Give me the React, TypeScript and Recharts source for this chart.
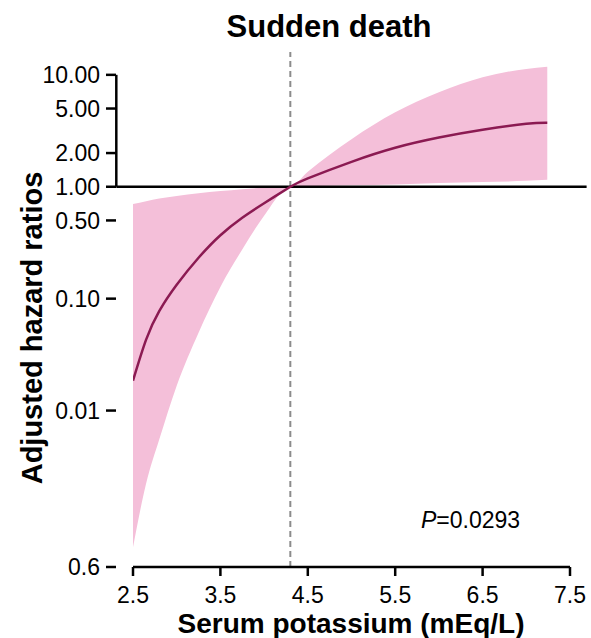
import React from 'react'
import { ComposedChart, Area, Line, XAxis, YAxis, ReferenceLine } from 'recharts'

// spline estimate
const potassium = [2.5, 2.65, 2.8, 3.0, 3.25, 3.5, 3.75, 4.0, 4.3, 4.5, 5.0, 5.5, 6.0, 6.5, 7.0, 7.24]
const hazardRatio = [0.0185, 0.043, 0.0773, 0.133, 0.232, 0.369, 0.529, 0.713, 1.0, 1.19, 1.67, 2.23, 2.75, 3.23, 3.65, 3.73]
const ciLower = [0.0006, 0.00223, 0.0055, 0.0167, 0.0497, 0.1274, 0.275, 0.551, 1.0, 1.008, 1.03, 1.05, 1.08, 1.1, 1.13, 1.155]
const ciUpper = [0.7, 0.741, 0.785, 0.828, 0.875, 0.914, 0.952, 0.98, 1.0, 1.36, 2.66, 4.62, 6.98, 9.5, 11.3, 11.8]

const xTicks = [2.5, 3.5, 4.5, 5.5, 6.5, 7.5]
const yTicks = [0.0004, 0.01, 0.1, 0.5, 1, 2, 5, 10]
const refPotassium = 4.3
const pValue = '0.0293'

const FONT = '"Liberation Sans", Arial, sans-serif'
const BAND = '#f4bfd9'
const CURVE = '#8b1a52'

const data = potassium.map((k, i) => ({
  k,
  hr: hazardRatio[i],
  ci: [ciLower[i], ciUpper[i]],
}))

const fmtY = (v: number) => (v < 0.001 ? '0.6' : v.toFixed(2))

function YTick({ x, y, payload }: any) {
  return (
    <g>
      <line x1={x - 27} x2={x - 17} y1={y} y2={y} stroke="#000" strokeWidth={2.5} />
      <text x={x - 33} y={y} dy="0.36em" textAnchor="end" fontSize={23} fontFamily={FONT} fill="#000">
        {fmtY(payload.value)}
      </text>
    </g>
  )
}

export default function App() {
  return (
    <div style={{ position: 'absolute', left: 0, top: 0, width: 591, height: 638, background: '#fff' }}>
      <ComposedChart width={591} height={638} data={data} margin={{ top: 52, right: 21, left: 0, bottom: 31 }}>
        <XAxis
          dataKey="k"
          type="number"
          domain={[2.5, 7.5]}
          allowDataOverflow
          ticks={xTicks}
          height={40}
          tickSize={9}
          tickMargin={11}
          axisLine={{ stroke: '#000', strokeWidth: 2.5 }}
          tickLine={{ stroke: '#000', strokeWidth: 2.5 }}
          tick={{ fontSize: 23, fontFamily: FONT, fill: '#000' }}
          tickFormatter={(v: number) => v.toFixed(1)}
        />
        <YAxis
          type="number"
          scale="log"
          domain={[0.0004, 16]}
          allowDataOverflow
          ticks={yTicks}
          width={133}
          axisLine={false}
          tickLine={false}
          tickSize={0}
          tickMargin={0}
          tick={<YTick />}
        />
        <Area
          type="monotone"
          dataKey="ci"
          stroke="none"
          fill={BAND}
          fillOpacity={1}
          isAnimationActive={false}
        />
        <ReferenceLine x={refPotassium} stroke="#8c8c8c" strokeWidth={2} strokeDasharray="6 4" />
        <ReferenceLine
          segment={[{ x: 2.309, y: 1 }, { x: 7.69, y: 1 }]}
          ifOverflow="visible"
          stroke="#000"
          strokeWidth={2.5}
        />
        <ReferenceLine
          segment={[{ x: 2.309, y: 1 }, { x: 2.309, y: 10 }]}
          ifOverflow="visible"
          stroke="#000"
          strokeWidth={2.5}
        />
        <Line
          type="natural"
          dataKey="hr"
          stroke={CURVE}
          strokeWidth={2.5}
          dot={false}
          activeDot={false}
          isAnimationActive={false}
        />
      </ComposedChart>
      <svg
        width={591}
        height={638}
        style={{ position: 'absolute', left: 0, top: 0, pointerEvents: 'none' }}
        fontFamily={FONT}
      >
        <text x={329} y={37} textAnchor="middle" fontSize={31} fontWeight="bold" fill="#000">
          Sudden death
        </text>
        <text x={351} y={633} textAnchor="middle" fontSize={28} fontWeight="bold" fill="#000">
          Serum potassium (mEq/L)
        </text>
        <text
          x={0}
          y={0}
          transform="translate(42,328) rotate(-90)"
          textAnchor="middle"
          fontSize={29}
          fontWeight="bold"
          fill="#000"
        >
          Adjusted hazard ratios
        </text>
        <text x={421} y={528} fontSize={23} fill="#000">
          <tspan fontStyle="italic">P</tspan>={pValue}
        </text>
      </svg>
    </div>
  )
}
